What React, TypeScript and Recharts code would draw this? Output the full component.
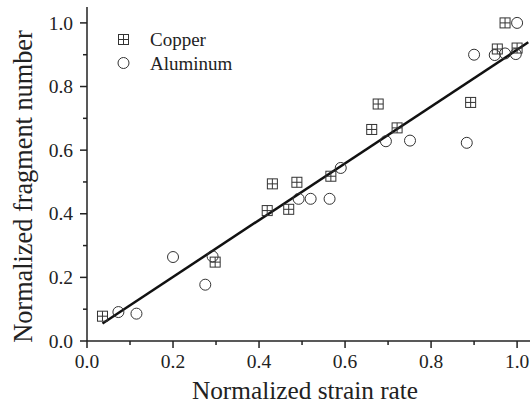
import React from 'react';
import { ScatterChart, Scatter, XAxis, YAxis, ReferenceLine } from 'recharts';

const copperX = [0.036, 0.298, 0.419, 0.431, 0.469, 0.488, 0.567, 0.662, 0.677, 0.721, 0.892, 0.954, 0.972, 1.0];
const copperY = [0.078, 0.248, 0.41, 0.494, 0.414, 0.499, 0.518, 0.665, 0.745, 0.67, 0.75, 0.918, 1.0, 0.921];

const aluminumX = [0.073, 0.115, 0.2, 0.275, 0.292, 0.492, 0.52, 0.564, 0.59, 0.695, 0.751, 0.883, 0.9, 0.948, 0.972, 0.997, 1.0];
const aluminumY = [0.091, 0.086, 0.264, 0.177, 0.266, 0.447, 0.447, 0.447, 0.544, 0.628, 0.63, 0.623, 0.9, 0.899, 0.904, 0.902, 1.0];

const fitX = [0.036, 1.026];
const fitY = [0.055, 0.939];

const xTicks = [0, 0.1, 0.2, 0.3, 0.4, 0.5, 0.6, 0.7, 0.8, 0.9, 1.0];
const yTicks = [0, 0.1, 0.2, 0.3, 0.4, 0.5, 0.6, 0.7, 0.8, 0.9, 1.0];
const majorTicks = [0, 0.2, 0.4, 0.6, 0.8, 1.0];

const copperData = copperX.map((x, i) => ({ x, y: copperY[i] }));
const aluminumData = aluminumX.map((x, i) => ({ x, y: aluminumY[i] }));

const FONT = "'Liberation Serif', 'Times New Roman', Tinos, 'DejaVu Serif', serif";
const INK = '#222';
const MARK = '#333';

const isMajor = (v: number) => majorTicks.some((m) => Math.abs(m - v) < 1e-6);

const CopperMarker = ({ cx, cy }: any) => (
  <g>
    <rect x={cx - 5} y={cy - 5} width={10} height={10} fill="none" stroke={MARK} strokeWidth={1} />
    <line x1={cx - 5} y1={cy} x2={cx + 5} y2={cy} stroke={MARK} strokeWidth={1} />
    <line x1={cx} y1={cy - 5} x2={cx} y2={cy + 5} stroke={MARK} strokeWidth={1} />
  </g>
);

const AluminumMarker = ({ cx, cy }: any) => (
  <circle cx={cx} cy={cy} r={5.5} fill="none" stroke={MARK} strokeWidth={1} />
);

const txt = (size: number) => ({ fontFamily: FONT, fontSize: size });

const BottomTick = (props: any) => {
  const { x, y, payload } = props;
  const v = payload.value;
  const major = isMajor(v);
  return (
    <g>
      <line x1={x} y1={y} x2={x} y2={y + (major ? 7 : 4)} stroke={INK} strokeWidth={1.5} />
      {major && (
        <text x={x} y={y + 27} textAnchor="middle" style={txt(19.5)} fill={INK}>
          {v.toFixed(1)}
        </text>
      )}
    </g>
  );
};

const TopTick = (props: any) => {
  const { x, y } = props;
  return <line x1={x} y1={y} x2={x} y2={y + 3} stroke={INK} strokeWidth={1.2} />;
};

const LeftTick = (props: any) => {
  const { x, y, payload } = props;
  const v = payload.value;
  const major = isMajor(v);
  return (
    <g>
      <line x1={x} y1={y} x2={x - (major ? 7 : 4)} y2={y} stroke={INK} strokeWidth={1.5} />
      {major && (
        <text x={x - 14} y={y} dy="0.34em" textAnchor="end" style={txt(19.5)} fill={INK}>
          {v.toFixed(1)}
        </text>
      )}
    </g>
  );
};

export default function App() {
  return (
    <div style={{ position: 'absolute', left: 0, top: 0, width: 530, height: 407, background: '#fff', fontFamily: FONT }}>
      <ScatterChart width={530} height={407} margin={{ top: 7, right: 0, bottom: 0, left: 0 }}>
        <XAxis
          xAxisId="top"
          orientation="top"
          type="number"
          dataKey="x"
          domain={[0, 1.03]}
          ticks={xTicks}
          height={0}
          tickSize={0}
          tickMargin={0}
          tickLine={false}
          tick={<TopTick />}
          axisLine={{ stroke: INK, strokeWidth: 1.5 }}
          allowDataOverflow
        />
        <XAxis
          type="number"
          dataKey="x"
          domain={[0, 1.03]}
          ticks={xTicks}
          height={66}
          tickSize={0}
          tickMargin={0}
          tickLine={false}
          tick={<BottomTick />}
          axisLine={{ stroke: INK, strokeWidth: 1.5 }}
          allowDataOverflow
          interval={0}
        />
        <YAxis
          type="number"
          dataKey="y"
          domain={[0, 1.05]}
          ticks={yTicks}
          width={87}
          tickSize={0}
          tickMargin={0}
          tickLine={false}
          tick={<LeftTick />}
          axisLine={{ stroke: INK, strokeWidth: 1.5 }}
          allowDataOverflow
          interval={0}
        />
        <ReferenceLine
          segment={[{ x: fitX[0], y: fitY[0] }, { x: fitX[1], y: fitY[1] }]}
          stroke="#111"
          strokeWidth={2.5}
          ifOverflow="visible"
        />
        <Scatter data={copperData} isAnimationActive={false} shape={(p: any) => <CopperMarker cx={p.cx} cy={p.cy} />} />
        <Scatter data={aluminumData} isAnimationActive={false} shape={(p: any) => <AluminumMarker cx={p.cx} cy={p.cy} />} />
      </ScatterChart>
      <svg width={530} height={407} style={{ position: 'absolute', left: 0, top: 0, pointerEvents: 'none' }}>
        <CopperMarker cx={123.5} cy={39.5} />
        <text x={150} y={46} style={txt(19)} fill={INK}>Copper</text>
        <AluminumMarker cx={123.5} cy={63} />
        <text x={150} y={70} style={txt(19)} fill={INK}>Aluminum</text>
        <text x={305} y={399} textAnchor="middle" style={txt(25.3)} fill={INK}>
          Normalized strain rate
        </text>
        <text
          x={0}
          y={0}
          transform="translate(32,186.5) rotate(-90)"
          textAnchor="middle"
          style={txt(26.3)}
          fill={INK}
        >
          Normalized fragment number
        </text>
      </svg>
    </div>
  );
}
